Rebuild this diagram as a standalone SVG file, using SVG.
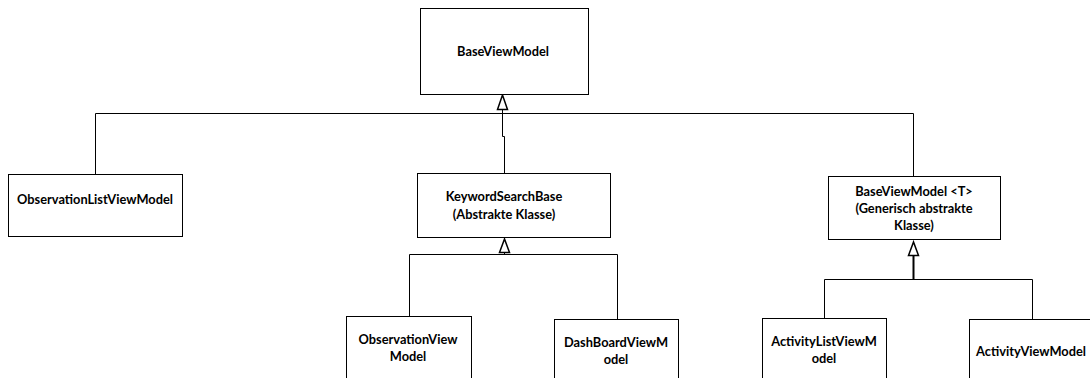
<svg xmlns="http://www.w3.org/2000/svg" width="1090" height="378" viewBox="0 0 1090 378">
  <style>
    .box { fill: #ffffff; stroke: #000000; stroke-width: 1; }
    .lbl { font-family: Lato, "Liberation Sans", sans-serif; font-weight: bold; font-size: 12.8px; fill: #000000; text-anchor: middle; }
    .wire { fill: none; stroke: #000000; stroke-width: 1; }
    .thick { stroke-width: 2; }
    .tri { fill: #ffffff; stroke: #000000; stroke-width: 1.5; stroke-linejoin: miter; }
  </style>
  <rect width="1090" height="378" fill="#ffffff"/>

  <!-- inheritance connectors -->
  <g id="connectors">
    <!-- children of BaseViewModel -->
    <path class="wire" d="M95.5,174 V113.5 H913.5 V176"/>
    <path class="wire" d="M502.5,110 V136.5 H504.5 V173"/>
    <polygon class="tri" points="502.5,95 497.5,109.5 507.5,109.5"/>
    <!-- children of KeywordSearchBase -->
    <path class="wire" d="M409.5,316 V254.5 H617.5 V319"/>
    <path class="wire" d="M504.5,252 V254.5"/>
    <polygon class="tri" points="504.5,239 499.5,252.5 509.5,252.5"/>
    <!-- children of BaseViewModel <T> -->
    <path class="wire" d="M824.5,318 V279.5 H1032.5 V319"/>
    <path class="wire thick" d="M913.5,255 V279"/>
    <polygon class="tri" points="913.5,242 908.5,255.5 918.5,255.5"/>
  </g>

  <g id="BaseViewModel">
    <rect class="box" x="420.5" y="8.5" width="168" height="86"/>
    <text class="lbl" x="503" y="56">BaseViewModel</text>
  </g>

  <g id="ObservationListViewModel">
    <rect class="box" x="8.5" y="174.5" width="174" height="62"/>
    <text class="lbl" x="95" y="204">ObservationListViewModel</text>
  </g>

  <g id="KeywordSearchBase">
    <rect class="box" x="417.5" y="173.5" width="193" height="64"/>
    <text class="lbl" x="504" y="201">KeywordSearchBase</text>
    <text class="lbl" x="504" y="219">(Abstrakte Klasse)</text>
  </g>

  <g id="BaseViewModelT">
    <rect class="box" x="828.5" y="176.5" width="172" height="63"/>
    <text class="lbl" x="914" y="196">BaseViewModel &lt;T&gt;</text>
    <text class="lbl" x="914" y="213">(Generisch abstrakte</text>
    <text class="lbl" x="914" y="230">Klasse)</text>
  </g>

  <g id="ObservationViewModel">
    <rect class="box" x="346.5" y="316.5" width="125" height="80"/>
    <text class="lbl" x="408" y="344">ObservationView</text>
    <text class="lbl" x="408" y="361">Model</text>
  </g>

  <g id="DashBoardViewModel">
    <rect class="box" x="554.5" y="319.5" width="124" height="80"/>
    <text class="lbl" x="616" y="347">DashBoardViewM</text>
    <text class="lbl" x="616" y="364">odel</text>
  </g>

  <g id="ActivityListViewModel">
    <rect class="box" x="762.5" y="318.5" width="124" height="80"/>
    <text class="lbl" x="824" y="346">ActivityListViewM</text>
    <text class="lbl" x="824" y="363">odel</text>
  </g>

  <g id="ActivityViewModel">
    <rect class="box" x="969.5" y="319.5" width="124" height="80"/>
    <text class="lbl" x="1031" y="356">ActivityViewModel</text>
  </g>
</svg>
